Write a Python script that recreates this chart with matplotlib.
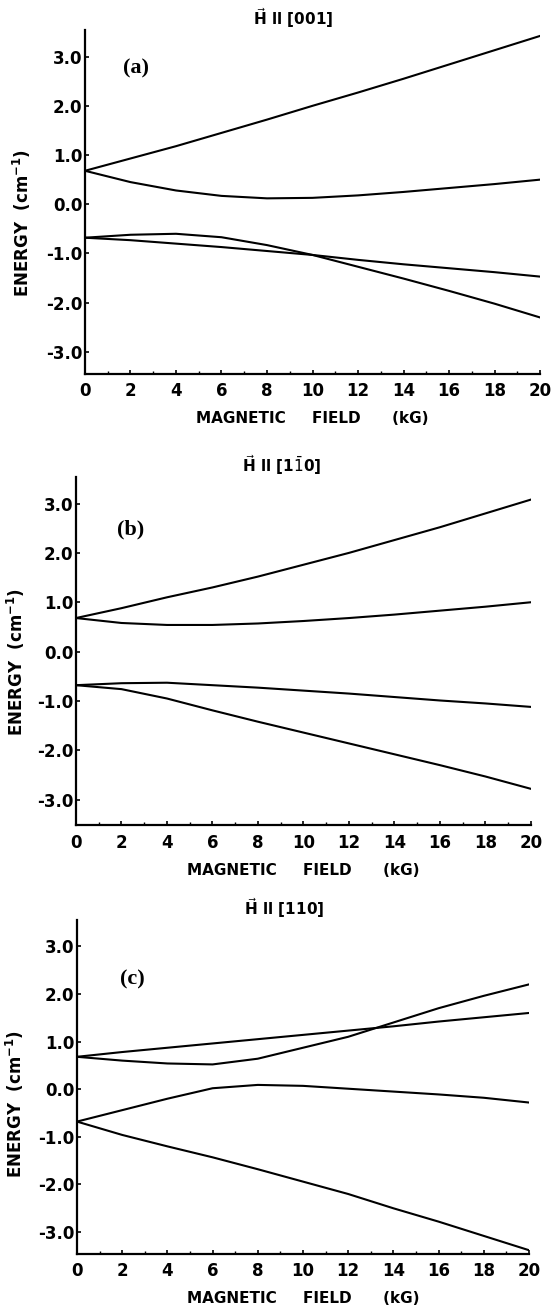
import numpy as np
import matplotlib
matplotlib.use("Agg")
from matplotlib import pyplot as plt
from matplotlib.ticker import MultipleLocator

# magnetic field points (kG)
field = [0, 2, 4, 6, 8, 10, 12, 14, 16, 18, 20]

# energy levels (cm^-1), H || [001]
a1 = [0.68, 0.93, 1.18, 1.45, 1.72, 2.00, 2.27, 2.55, 2.84, 3.13, 3.42]
a2 = [0.68, 0.45, 0.28, 0.17, 0.12, 0.13, 0.18, 0.25, 0.33, 0.41, 0.50]
a3 = [-0.68, -0.62, -0.60, -0.67, -0.83, -1.03, -1.27, -1.51, -1.76, -2.02, -2.30]
a4 = [-0.68, -0.73, -0.80, -0.87, -0.95, -1.03, -1.13, -1.22, -1.30, -1.38, -1.47]

# H || [1-10]
b1 = [0.68, 0.88, 1.10, 1.30, 1.52, 1.76, 2.00, 2.26, 2.52, 2.80, 3.08]
b2 = [0.68, 0.58, 0.54, 0.54, 0.57, 0.62, 0.68, 0.75, 0.83, 0.91, 1.00]
b3 = [-0.68, -0.64, -0.63, -0.68, -0.73, -0.79, -0.85, -0.92, -0.99, -1.05, -1.12]
b4 = [-0.68, -0.76, -0.95, -1.19, -1.42, -1.64, -1.86, -2.08, -2.30, -2.53, -2.78]

# H || [110]
c1 = [0.68, 0.78, 0.87, 0.96, 1.05, 1.14, 1.23, 1.32, 1.42, 1.51, 1.60]
c2 = [0.68, 0.60, 0.54, 0.52, 0.64, 0.87, 1.10, 1.40, 1.70, 1.96, 2.20]
c3 = [-0.68, -0.44, -0.20, 0.02, 0.09, 0.07, 0.01, -0.05, -0.11, -0.18, -0.28]
c4 = [-0.68, -0.96, -1.20, -1.43, -1.68, -1.94, -2.20, -2.50, -2.78, -3.08, -3.38]

titles = [r"$\vec{\mathbf{H}}$ ll [001]", r"$\vec{\mathbf{H}}$ ll [1$\bar{1}$0]", r"$\vec{\mathbf{H}}$ ll [110]"]
tags = ["(a)", "(b)", "(c)"]
tag_pos = [(2.25, 2.75), (2.4, 2.47), (2.45, 2.3)]
yticks = [3.0, 2.0, 1.0, 0.0, -1.0, -2.0, -3.0]
ytick_labels = ["3.0", "2.0", "1.0", "0.0", "-1.0", "-2.0", "-3.0"]
xticks = [0, 2, 4, 6, 8, 10, 12, 14, 16, 18, 20]

# rect (fig fraction), ylim, ylabel x (axes frac), ylabel y (axes frac), title x
panels = [
    ([0.1537, 0.7136, 0.8228, 0.2634], (-3.45, 3.54), -0.115, 0.44, 0.457, [a1, a2, a3, a4]),
    ([0.1374, 0.3680, 0.8228, 0.2665], (-3.52, 3.53), -0.108, 0.47, 0.453, [b1, b2, b3, b4]),
    ([0.1392, 0.0398, 0.8174, 0.2557], (-3.46, 3.55), -0.112, 0.45, 0.458, [c1, c2, c3, c4]),
]

fig = plt.figure(figsize=(5.53, 13.06), dpi=100)

for i, (rect, ylim, lx, ly, tx, curves) in enumerate(panels):
    ax = fig.add_axes(rect)
    for y in curves:
        ax.plot(field, y, color="black", lw=1.5, solid_joinstyle="round")
    ax.set_xlim(0, 20)
    ax.set_ylim(*ylim)
    ax.spines["top"].set_visible(False)
    ax.spines["right"].set_visible(False)
    ax.spines["left"].set_linewidth(1.6)
    ax.spines["bottom"].set_linewidth(1.6)
    ax.set_xticks(xticks)
    ax.set_xticklabels([str(t) for t in xticks], fontsize=12, fontweight="bold")
    ax.xaxis.set_minor_locator(MultipleLocator(1))
    ax.set_yticks(yticks)
    ax.set_yticklabels(ytick_labels, fontsize=12, fontweight="bold")
    ax.tick_params(axis="y", which="major", direction="in", length=3, width=1.2, pad=2)
    ax.tick_params(axis="x", which="major", direction="in", length=3, width=1.2, pad=6)
    ax.tick_params(axis="x", which="minor", direction="in", length=2, width=1)
    ax.set_xlabel("MAGNETIC     FIELD      (kG)", fontsize=11, fontweight="bold", labelpad=8)
    ax.set_ylabel(r"ENERGY  (cm$^{\mathbf{-1}}$)", fontsize=12, fontweight="bold")
    ax.yaxis.set_label_coords(lx, ly)
    ax.text(tx, 1.0, titles[i], transform=ax.transAxes, ha="center", va="bottom",
            fontsize=11, fontweight="bold")
    ax.text(tag_pos[i][0], tag_pos[i][1], tags[i], fontsize=16, fontweight="bold",
            family="Liberation Serif", ha="center", va="center")

fig.savefig("out.png", dpi=100)
